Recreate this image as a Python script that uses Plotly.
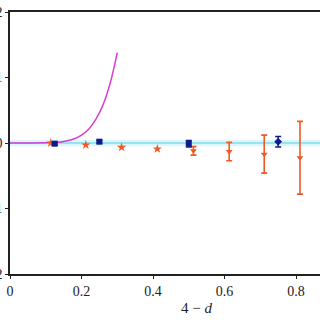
import plotly.graph_objects as go

# magenta curve
curve_x = [0.0, 0.05, 0.10, 0.13, 0.15, 0.18, 0.20, 0.22, 0.24, 0.26, 0.28, 0.30]
curve_y = [0.0, 0.0, 0.002, 0.01, 0.022, 0.064, 0.12, 0.21, 0.36, 0.58, 0.91, 1.38]

# cyan reference line and band
ref_x = [0.0, 0.87]
ref_y = [0.0, 0.0]
band_lo = [-0.05, -0.05]
band_hi = [0.05, 0.05]

# navy series
navy_x = [0.125, 0.25, 0.5, 0.75]
navy_y = [-0.01, 0.02, -0.01, 0.02]
navy_err = [0.02, 0.02, 0.05, 0.08]
navy_sym = ["square", "square", "square", "diamond"]

# orange stars
star_x = [0.114, 0.212, 0.312, 0.412]
star_y = [0.0, -0.03, -0.066, -0.09]

# orange triangles with error bars
tri_x = [0.513, 0.613, 0.711, 0.811]
tri_y = [-0.12, -0.13, -0.17, -0.225]
tri_err = [0.065, 0.14, 0.29, 0.555]

x_ticks = [0, 0.2, 0.4, 0.6, 0.8]
x_labels = ["0", "0.2", "0.4", "0.6", "0.8"]
y_ticks = [-2, -1, 0, 1, 2]
y_labels = ["−2", "−1", "0", "1", "2"]

ORANGE = "#ef5a24"
NAVY = "#0c1a8a"
MAGENTA = "#d83ad8"
CYAN = "#55cfe0"

fig = go.Figure()
fig.add_trace(go.Scatter(x=ref_x, y=band_hi, mode="lines", line=dict(width=0), showlegend=False))
fig.add_trace(go.Scatter(x=ref_x, y=band_lo, mode="lines", line=dict(width=0), fill="tonexty",
                         fillcolor="rgba(140,225,245,0.3)", showlegend=False))
fig.add_trace(go.Scatter(x=ref_x, y=ref_y, mode="lines", line=dict(color=CYAN, width=1), showlegend=False))
fig.add_trace(go.Scatter(x=curve_x, y=curve_y, mode="lines", line=dict(color=MAGENTA, width=1.5, shape="spline"),
                         showlegend=False))
fig.add_trace(go.Scatter(x=star_x, y=star_y, mode="markers",
                         marker=dict(symbol="star", size=7, color=ORANGE), showlegend=False))
fig.add_trace(go.Scatter(x=tri_x, y=tri_y, mode="markers",
                         marker=dict(symbol="triangle-down", size=6, color=ORANGE),
                         error_y=dict(type="data", array=tri_err, color=ORANGE, thickness=1.6, width=3),
                         showlegend=False))
fig.add_trace(go.Scatter(x=navy_x, y=navy_y, mode="markers",
                         marker=dict(symbol=navy_sym, size=6, color=NAVY),
                         error_y=dict(type="data", array=navy_err, color=NAVY, thickness=1.4, width=3),
                         showlegend=False))

fig.add_annotation(text="4 − <i>d</i>", xref="paper", yref="paper", x=0.6, y=-0.09,
                   showarrow=False, yanchor="top", font=dict(family="Liberation Serif", size=15, color="#222"))

fig.update_layout(
    width=320, height=320,
    margin=dict(l=10, r=0, t=12, b=46),
    plot_bgcolor="white", paper_bgcolor="white",
    font=dict(family="Liberation Serif", size=14, color="#222"),
    xaxis=dict(range=[0, 0.867], tickvals=x_ticks, ticktext=x_labels, showgrid=False, zeroline=False,
               showline=True, linecolor="#222", linewidth=1.5, mirror=True, ticks="outside",
               ticklen=3, tickcolor="#222", automargin=False),
    yaxis=dict(range=[-2, 2], tickvals=y_ticks, ticktext=y_labels, showgrid=False, zeroline=False,
               showline=True, linecolor="#222", linewidth=1.5, ticks="outside", ticklen=3,
               tickcolor="#222", automargin=False),
)
fig.write_html("out.html", config={"displayModeBar": False},
               post_script="document.body.style.margin='0';")
